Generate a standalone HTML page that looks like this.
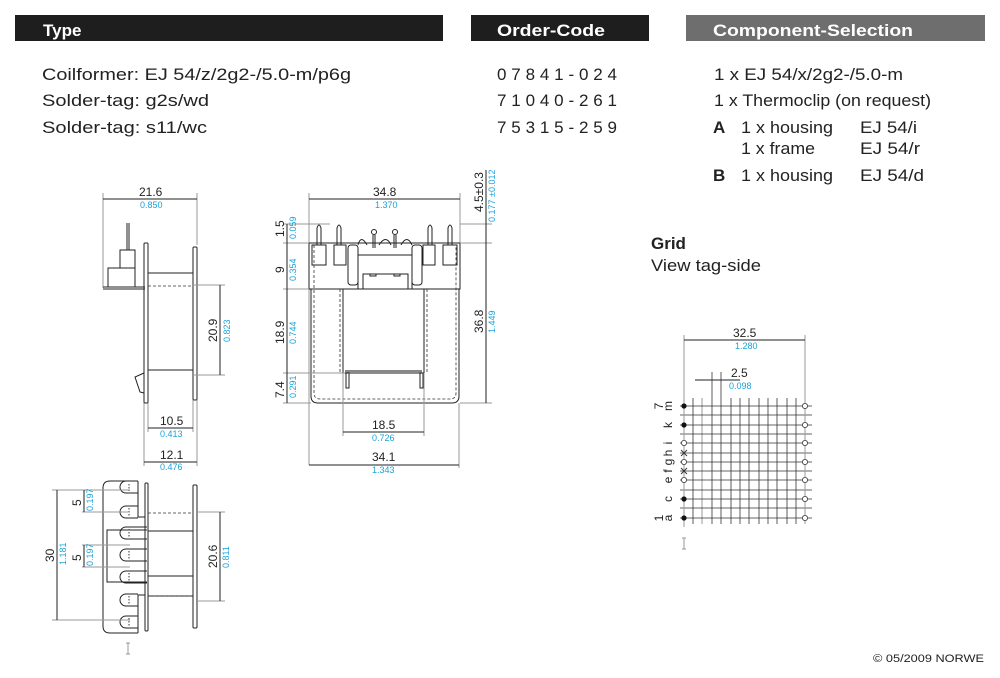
<!DOCTYPE html>
<html><head><meta charset="utf-8"><style>
html,body{margin:0;padding:0;background:#fff;}
svg{display:block;}
text{font-family:"Liberation Sans",sans-serif;}
.t{font-size:17px;fill:#222;}
.d{font-size:12px;fill:#222;}
.b{font-size:9px;fill:#1aa3d9;}
.l{stroke:#222;stroke-width:1;fill:none;}
.g{stroke:#999;stroke-width:1;fill:none;}
.dash{stroke:#333;stroke-width:0.8;fill:none;stroke-dasharray:3 2;}
</style></head><body>
<svg width="1000" height="678" viewBox="0 0 1000 678" xmlns="http://www.w3.org/2000/svg">
<rect width="1000" height="678" fill="#fff"/>
<rect x="15" y="15" width="428" height="26" fill="#1e1e1e"/>
<rect x="471" y="15" width="178" height="26" fill="#1e1e1e"/>
<rect x="686" y="15" width="299" height="26" fill="#6e6e6e"/>
<text x="43" y="36" font-size="17" font-weight="bold" fill="#fff">Type</text>
<text x="497" y="36" font-size="17" font-weight="bold" fill="#fff" textLength="108" lengthAdjust="spacingAndGlyphs">Order-Code</text>
<text x="713" y="36" font-size="17" font-weight="bold" fill="#fff" textLength="200" lengthAdjust="spacingAndGlyphs">Component-Selection</text>
<text class="t" x="42" y="80" textLength="309" lengthAdjust="spacingAndGlyphs">Coilformer:  EJ 54/z/2g2-/5.0-m/p6g</text>
<text class="t" x="42" y="106" textLength="167" lengthAdjust="spacingAndGlyphs">Solder-tag:  g2s/wd</text>
<text class="t" x="42" y="133" textLength="165" lengthAdjust="spacingAndGlyphs">Solder-tag:  s11/wc</text>
<text class="t" x="497" y="80" textLength="120" lengthAdjust="spacing">07841-024</text>
<text class="t" x="497" y="106" textLength="120" lengthAdjust="spacing">71040-261</text>
<text class="t" x="497" y="133" textLength="120" lengthAdjust="spacing">75315-259</text>
<text class="t" x="714" y="80" textLength="189" lengthAdjust="spacingAndGlyphs">1 x EJ 54/x/2g2-/5.0-m</text>
<text class="t" x="714" y="106" textLength="217" lengthAdjust="spacingAndGlyphs">1 x Thermoclip (on request)</text>
<text class="t" x="713" y="133" font-weight="bold">A</text>
<text class="t" x="741" y="133" textLength="92" lengthAdjust="spacingAndGlyphs">1 x housing</text>
<text class="t" x="860" y="133" textLength="57" lengthAdjust="spacingAndGlyphs">EJ 54/i</text>
<text class="t" x="741" y="154" textLength="74" lengthAdjust="spacingAndGlyphs">1 x frame</text>
<text class="t" x="860" y="154" textLength="60" lengthAdjust="spacingAndGlyphs">EJ 54/r</text>
<text class="t" x="713" y="181" font-weight="bold">B</text>
<text class="t" x="741" y="181" textLength="92" lengthAdjust="spacingAndGlyphs">1 x housing</text>
<text class="t" x="860" y="181" textLength="64" lengthAdjust="spacingAndGlyphs">EJ 54/d</text>
<text class="t" x="651" y="249" font-weight="bold">Grid</text>
<text class="t" x="651" y="271" textLength="110" lengthAdjust="spacingAndGlyphs">View tag-side</text>
<text x="873" y="662" font-size="11" fill="#222" textLength="111" lengthAdjust="spacingAndGlyphs">© 05/2009 NORWE</text>

<!-- SIDE VIEW -->
<g>
<line class="g" x1="103" y1="193" x2="103" y2="288"/>
<line class="g" x1="197" y1="193" x2="197" y2="245"/>
<line class="l" x1="103" y1="199" x2="197" y2="199"/>
<text class="d" x="139" y="196">21.6</text><text class="b" x="140" y="208">0.850</text>
<line class="l" x1="127" y1="223" x2="127" y2="250"/><line class="l" x1="129" y1="223" x2="129" y2="250"/>
<rect class="l" x="120" y="250" width="15" height="18"/>
<rect class="l" x="108" y="268" width="27" height="19"/>
<line class="l" x1="103" y1="287" x2="145" y2="287"/>
<line class="l" x1="103" y1="289" x2="145" y2="289"/>
<rect class="l" x="144" y="243" width="4" height="160" rx="1"/>
<rect class="l" x="193" y="247" width="4" height="153" rx="1"/>
<line class="l" x1="148" y1="273" x2="193" y2="273"/>
<line class="l" x1="148" y1="370" x2="193" y2="370"/>
<line class="dash" x1="148" y1="286" x2="193" y2="286"/>
<polyline class="l" points="144,373 135,377 140,392 144,393"/>
<line class="g" x1="193" y1="285" x2="225" y2="285"/>
<line class="g" x1="193" y1="375" x2="225" y2="375"/>
<line class="l" x1="220" y1="285" x2="220" y2="375"/>
<text class="d" transform="translate(217,342) rotate(-90)">20.9</text>
<text class="b" transform="translate(230,342) rotate(-90)">0.823</text>
<line class="g" x1="148" y1="403" x2="148" y2="432"/>
<line class="g" x1="193" y1="400" x2="193" y2="432"/>
<line class="l" x1="148" y1="428" x2="193" y2="428"/>
<text class="d" x="160" y="425">10.5</text><text class="b" x="160" y="437">0.413</text>
<line class="g" x1="144" y1="403" x2="144" y2="466"/>
<line class="g" x1="197" y1="400" x2="197" y2="466"/>
<line class="l" x1="144" y1="462" x2="197" y2="462"/>
<text class="d" x="160" y="459">12.1</text><text class="b" x="160" y="470">0.476</text>
</g>

<!-- FRONT VIEW -->
<g>
<line class="g" x1="309" y1="193" x2="309" y2="465"/>
<line class="g" x1="460" y1="193" x2="460" y2="245"/>
<line class="l" x1="309" y1="199" x2="460" y2="199"/>
<text class="d" x="373" y="196">34.8</text><text class="b" x="375" y="208">1.370</text>
<rect class="l" x="309" y="243" width="151" height="46"/>
<path class="l" d="M311,289 V396 Q311,403 318,403 H452 Q459,403 459,396 V289"/>
<path class="dash" d="M314,245 V393 Q314,399 320,399 H450 Q456,399 456,393 V245"/>
<rect class="l" x="343" y="289" width="81" height="84"/>
<path class="dash" d="M340,289 V373 M427,289 V373"/>
<rect x="345" y="370" width="77" height="3" fill="#888"/>
<rect class="l" x="346" y="373" width="3" height="15"/>
<rect class="l" x="420" y="373" width="3" height="15"/>
<g class="l">
<rect x="312" y="245" width="14" height="20"/><rect x="334" y="245" width="12" height="20"/>
<rect x="423" y="245" width="12" height="20"/><rect x="443" y="245" width="14" height="20"/>
<path d="M317,245 V228 Q319,222 321,228 V245"/><path d="M337,245 V228 Q339,222 341,228 V245"/>
<path d="M428,245 V228 Q430,222 432,228 V245"/><path d="M448,245 V228 Q450,222 452,228 V245"/>
<path d="M358,245 Q361,234 367,245 M379,245 Q386,234 391,245 M401,245 Q407,234 412,245"/>
<path d="M373,248 V235 M375,248 V235 M394,248 V235 M396,248 V235"/>
<circle cx="374" cy="232" r="2.5"/><circle cx="395" cy="232" r="2.5"/>
<rect x="348" y="245" width="10" height="40" rx="3"/><rect x="412" y="245" width="10" height="40" rx="3"/>
<rect x="358" y="255" width="54" height="34"/>
<path d="M363,289 V274 H408 V289 M370,274 V276 H376 V274 M394,274 V276 H400 V274"/>
</g>
<line class="g" x1="460" y1="224" x2="492" y2="224"/>
<line class="g" x1="460" y1="243" x2="492" y2="243"/>
<line class="g" x1="460" y1="403" x2="492" y2="403"/>
<line class="l" x1="486" y1="170" x2="486" y2="403"/>
<text class="d" transform="translate(483,212) rotate(-90)">4.5±0.3</text>
<text class="b" transform="translate(495,222) rotate(-90)">0.177 ±0.012</text>
<text class="d" transform="translate(483,333) rotate(-90)">36.8</text>
<text class="b" transform="translate(495,333) rotate(-90)">1.449</text>
<line class="g" x1="283" y1="224" x2="330" y2="224"/>
<line class="g" x1="283" y1="243" x2="309" y2="243"/>
<line class="g" x1="283" y1="289" x2="309" y2="289"/>
<line class="g" x1="283" y1="373" x2="345" y2="373"/>
<line class="g" x1="283" y1="403" x2="311" y2="403"/>
<line class="l" x1="287" y1="224" x2="287" y2="403"/>
<text class="d" transform="translate(284,237) rotate(-90)">1.5</text><text class="b" transform="translate(296,239) rotate(-90)">0.059</text>
<text class="d" transform="translate(284,273) rotate(-90)">9</text><text class="b" transform="translate(296,281) rotate(-90)">0.354</text>
<text class="d" transform="translate(284,344) rotate(-90)">18.9</text><text class="b" transform="translate(296,344) rotate(-90)">0.744</text>
<text class="d" transform="translate(284,398) rotate(-90)">7.4</text><text class="b" transform="translate(296,398) rotate(-90)">0.291</text>
<line class="g" x1="343" y1="373" x2="343" y2="436"/>
<line class="g" x1="424" y1="373" x2="424" y2="436"/>
<line class="l" x1="343" y1="432" x2="424" y2="432"/>
<text class="d" x="372" y="429">18.5</text><text class="b" x="372" y="441">0.726</text>
<line class="g" x1="459" y1="403" x2="459" y2="468"/>
<line class="l" x1="309" y1="465" x2="459" y2="465"/>
<text class="d" x="372" y="461">34.1</text><text class="b" x="372" y="473">1.343</text>
</g>

<!-- BOTTOM VIEW -->
<g class="l">
<path d="M138,481 H110 Q103,481 103,488 V626 Q103,633 110,633 H138"/>
<rect x="145" y="483" width="3" height="148" rx="1"/>
<rect x="193" y="485" width="4" height="143" rx="1"/>
<path d="M138,481 V517 H145"/>
<path d="M138,633 V595 H145"/>
<path d="M147,530 H107 V582 H147"/>
<line x1="148" y1="531" x2="193" y2="531"/><line x1="148" y1="576" x2="193" y2="576"/>
<line x1="148" y1="596" x2="193" y2="596"/>
<path d="M138,481 H126 A6,6 0 0 0 126,493 H138"/>
<path d="M138,506 H126 A6,6 0 0 0 126,518 H138"/>
<path d="M147,527 H126 A6,6 0 0 0 126,539 H147"/>
<path d="M147,549 H126 A6,6 0 0 0 126,561 H147"/>
<path d="M147,571 H126 A6,6 0 0 0 126,583 H147"/>
<path d="M138,594 H126 A6,6 0 0 0 126,606 H138"/>
<path d="M138,616 H126 A6,6 0 0 0 126,628 H138"/>
</g>
<g stroke="#555" stroke-width="1.2" stroke-dasharray="1.5 1.5">
<line x1="129" y1="484" x2="129" y2="491"/><line x1="129" y1="508" x2="129" y2="516"/>
<line x1="129" y1="529" x2="129" y2="537"/><line x1="129" y1="551" x2="129" y2="559"/>
<line x1="129" y1="573" x2="129" y2="581"/><line x1="129" y1="596" x2="129" y2="604"/>
<line x1="129" y1="618" x2="129" y2="626"/>
</g>
<line class="dash" x1="148" y1="513" x2="193" y2="513"/>
<line class="dash" x1="148" y1="596" x2="193" y2="596"/>
<line class="g" x1="52" y1="490" x2="130" y2="490"/>
<line class="g" x1="52" y1="620" x2="130" y2="620"/>
<line class="l" x1="57" y1="490" x2="57" y2="620"/>
<text class="d" transform="translate(54,562) rotate(-90)">30</text><text class="b" transform="translate(66,565) rotate(-90)">1.181</text>
<line class="g" x1="82" y1="512" x2="130" y2="512"/>
<line class="l" x1="84" y1="490" x2="84" y2="512"/>
<text class="d" transform="translate(81,506) rotate(-90)">5</text><text class="b" transform="translate(93,511) rotate(-90)">0.197</text>
<line class="g" x1="82" y1="545" x2="130" y2="545"/><line class="g" x1="82" y1="567" x2="130" y2="567"/>
<line class="l" x1="84" y1="545" x2="84" y2="567"/>
<text class="d" transform="translate(81,561) rotate(-90)">5</text><text class="b" transform="translate(93,566) rotate(-90)">0.197</text>
<line class="g" x1="197" y1="512" x2="225" y2="512"/><line class="g" x1="197" y1="601" x2="225" y2="601"/>
<line class="l" x1="220" y1="512" x2="220" y2="601"/>
<text class="d" transform="translate(217,568) rotate(-90)">20.6</text><text class="b" transform="translate(229,568) rotate(-90)">0.811</text>
<path class="g" d="M128,643 V654 M126,643 H130 M126,654 H130"/>

<!-- GRID -->
<g>
<line class="g" x1="684" y1="335" x2="684" y2="527"/>
<line class="g" x1="805" y1="335" x2="805" y2="402"/>
<line class="l" x1="684" y1="340" x2="805" y2="340"/>
<text class="d" x="733" y="337">32.5</text><text class="b" x="735" y="349">1.280</text>
<line class="l" x1="695" y1="380" x2="740" y2="380"/>
<text class="d" x="731" y="377">2.5</text><text class="b" x="729" y="389">0.098</text>
<g stroke="#333" stroke-width="0.8">
<line x1="693" y1="398" x2="693" y2="524"/><line x1="712" y1="372" x2="712" y2="524"/>
<line x1="721" y1="372" x2="721" y2="524"/><line x1="731" y1="398" x2="731" y2="524"/>
<line x1="740" y1="398" x2="740" y2="524"/><line x1="749" y1="398" x2="749" y2="524"/>
<line x1="759" y1="398" x2="759" y2="524"/><line x1="768" y1="398" x2="768" y2="524"/>
<line x1="777" y1="398" x2="777" y2="524"/><line x1="787" y1="398" x2="787" y2="524"/>
<line x1="796" y1="398" x2="796" y2="524"/>
</g>
<line class="g" x1="702" y1="398" x2="702" y2="524"/>
<g stroke="#333" stroke-width="0.8">
<line x1="680" y1="406" x2="812" y2="406"/><line x1="680" y1="415" x2="812" y2="415"/>
<line x1="680" y1="425" x2="812" y2="425"/><line x1="680" y1="434" x2="812" y2="434"/>
<line x1="680" y1="443" x2="812" y2="443"/><line x1="680" y1="453" x2="812" y2="453"/>
<line x1="680" y1="462" x2="812" y2="462"/><line x1="680" y1="471" x2="812" y2="471"/>
<line x1="680" y1="480" x2="812" y2="480"/><line x1="680" y1="490" x2="812" y2="490"/>
<line x1="680" y1="499" x2="812" y2="499"/><line x1="680" y1="508" x2="812" y2="508"/>
<line x1="680" y1="518" x2="812" y2="518"/>
</g>
<line class="g" x1="684" y1="398" x2="684" y2="527"/>
<line class="g" x1="805" y1="398" x2="805" y2="524"/>
<g fill="#111"><circle cx="684" cy="406" r="2.6"/><circle cx="684" cy="425" r="2.6"/><circle cx="684" cy="499" r="2.6"/><circle cx="684" cy="518" r="2.6"/></g>
<g fill="#fff" stroke="#333" stroke-width="0.8">
<circle cx="684" cy="443" r="2.6"/><circle cx="684" cy="462" r="2.6"/><circle cx="684" cy="480" r="2.6"/>
<circle cx="805" cy="406" r="2.6"/><circle cx="805" cy="425" r="2.6"/><circle cx="805" cy="443" r="2.6"/>
<circle cx="805" cy="462" r="2.6"/><circle cx="805" cy="480" r="2.6"/><circle cx="805" cy="499" r="2.6"/><circle cx="805" cy="518" r="2.6"/>
</g>
<path stroke="#333" stroke-width="0.9" d="M681,450 L687,456 M687,450 L681,456 M681,468 L687,474 M687,468 L681,474"/>
<text class="d" font-size="14" transform="translate(658,406) rotate(-90)" text-anchor="middle" dy="5">7</text>
<text class="d" font-size="14" transform="translate(658,518) rotate(-90)" text-anchor="middle" dy="5">1</text>
<g class="d" font-size="13">
<text transform="translate(672,518) rotate(-90)" text-anchor="middle">a</text>
<text transform="translate(672,499) rotate(-90)" text-anchor="middle">c</text>
<text transform="translate(672,480) rotate(-90)" text-anchor="middle">e</text>
<text transform="translate(672,471) rotate(-90)" text-anchor="middle">f</text>
<text transform="translate(672,462) rotate(-90)" text-anchor="middle">g</text>
<text transform="translate(672,453) rotate(-90)" text-anchor="middle">h</text>
<text transform="translate(672,443) rotate(-90)" text-anchor="middle">i</text>
<text transform="translate(672,425) rotate(-90)" text-anchor="middle">k</text>
<text transform="translate(672,406) rotate(-90)" text-anchor="middle">m</text>
</g>
<path class="g" d="M684,538 V549 M682,538 H686 M682,549 H686"/>
</g>
</svg>
</body></html>
